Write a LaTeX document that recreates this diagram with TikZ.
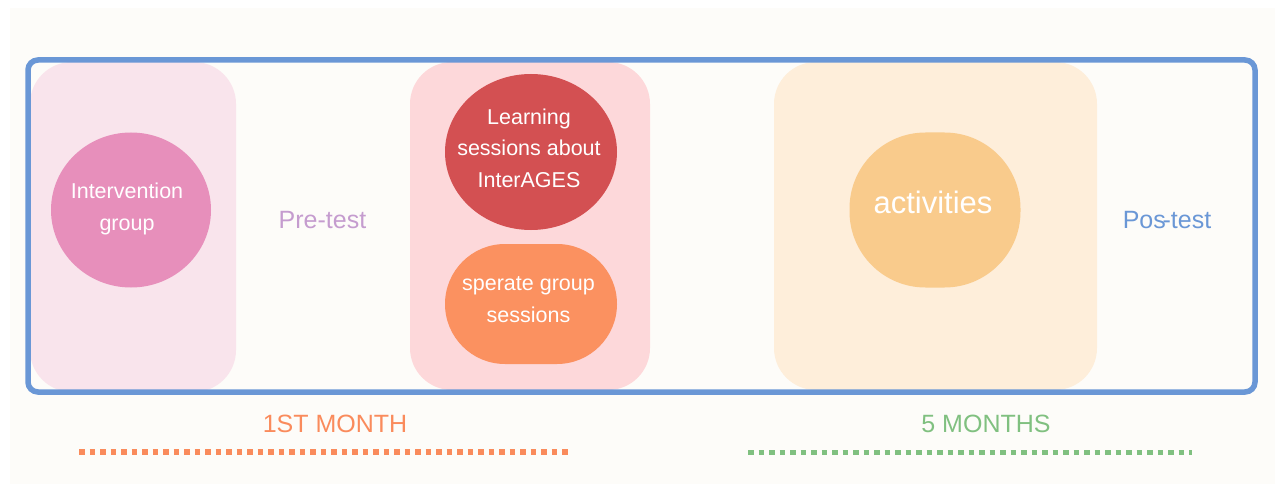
\documentclass[tikz,border=0pt]{standalone}
\usepackage{fontspec}
\setmainfont{Liberation Sans}
\usetikzlibrary{shapes.geometric}
\definecolor{bgc}{HTML}{FDFCF9}
\definecolor{frameblue}{HTML}{6A97D6}
\definecolor{pinkbox}{HTML}{F9E4EC}
\definecolor{pinkdot}{HTML}{E78FBB}
\definecolor{lav}{HTML}{C59CCF}
\definecolor{rosebox}{HTML}{FDD8DA}
\definecolor{redc}{HTML}{D35052}
\definecolor{orangec}{HTML}{FB9160}
\definecolor{beigebox}{HTML}{FEEEDA}
\definecolor{actc}{HTML}{F9CB8C}
\definecolor{montho}{HTML}{FA8B5C}
\definecolor{monthg}{HTML}{80C080}
\tikzset{
  panel/.style={draw=none, rounded corners=42pt},
  blob/.style={draw=none, text=white, align=center, inner sep=0pt},
  lbl/.style={inner sep=0pt, anchor=base, font=\fontsize{25}{30}\selectfont},
  dots/.style={line width=5.5pt, dash pattern=on 5.5pt off 5pt}
}
\begin{document}
\begin{tikzpicture}[x=1pt,y=-1pt]
\useasboundingbox (0,0) rectangle (1275,484);
\fill[bgc] (10,8) rectangle (1275,484);
% panels
\fill[pinkbox, panel] (30,62) rectangle (236,392);
\fill[rosebox, panel] (410,62) rectangle (650,390);
\fill[beigebox, panel] (774,62) rectangle (1097,390);
% frame
\draw[frameblue, line width=5.5pt, rounded corners=10pt] (28,60) rectangle (1255,392);
% blobs
\node[blob, ellipse, fill=pinkdot, minimum width=160pt, minimum height=155pt] (ig) at (131,210) {};
\node[blob, font=\fontsize{21.5}{32}\selectfont] (igt) at (127,208.5) {Intervention\\group};
\node[blob, ellipse, fill=redc, minimum width=172pt, minimum height=156pt] (ls) at (531,152) {};
\node[blob, font=\fontsize{21.5}{31.5}\selectfont] (lst) at (529,148) {Learning\\sessions about\\InterAGES};
\node[blob, rectangle, rounded corners=60pt, fill=orangec, minimum width=172pt, minimum height=120pt] (sg) at (531,304) {};
\node[blob, font=\fontsize{21.5}{32}\selectfont] (sgt) at (528.5,299.5) {sperate group\\sessions};
\node[blob, rectangle, rounded corners=76pt, fill=actc, minimum width=171pt, minimum height=155pt] (act) at (935,210) {};
\node[lbl, text=white, font=\fontsize{31}{36}\selectfont] (actt) at (933,214) {activities};
% labels
\node[lbl, text=lav] (pre) at (322.5,229) {Pre-test};
\node[lbl, text=frameblue] (pos) at (1167,229) {Pos\kern-0.13em-test};
\node[lbl, text=montho] (m1) at (335,432) {1ST MONTH};
\node[lbl, text=monthg] (m5) at (986,432) {5 MONTHS};
% dotted lines
\coordinate (o1) at (79,452);
\coordinate (o2) at (572,452);
\coordinate (g1) at (748,452.5);
\coordinate (g2) at (1192,452.5);
\draw[dots, montho] (o1) -- (o2);
\draw[dots, monthg] (g1) -- (g2);
\end{tikzpicture}
\end{document}
